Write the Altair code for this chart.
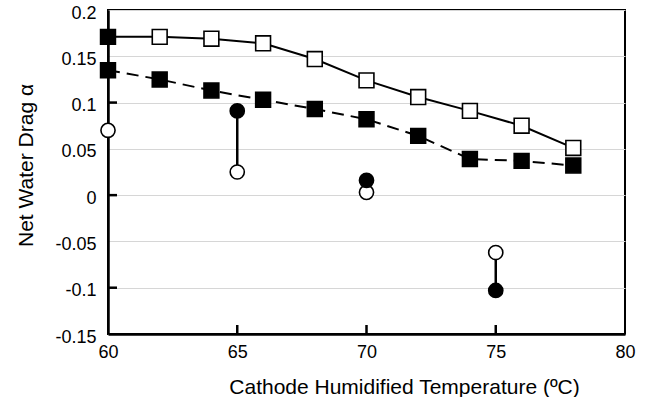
import altair as alt
import numpy as np
import pandas as pd

# ---- data ----
temps = [60, 62, 64, 66, 68, 70, 72, 74, 76, 78]
alpha_solid = [0.171, 0.171, 0.169, 0.164, 0.147, 0.124, 0.106, 0.091, 0.075, 0.051]
alpha_dashed = [0.135, 0.125, 0.113, 0.103, 0.093, 0.082, 0.064, 0.039, 0.037, 0.032]

circ_temps = [60, 65, 70, 75]
circ_open = [0.070, 0.025, 0.003, -0.062]
circ_filled = [np.nan, 0.091, 0.016, -0.103]

y_tick_values = [-0.15, -0.1, -0.05, 0, 0.05, 0.1, 0.15, 0.2]
y_major = [-0.1, 0, 0.1]
x_tick_values = [60, 65, 70, 75, 80]
x_inner = [65, 70, 75]

sq = pd.DataFrame({"T": temps, "solid": alpha_solid, "dashed": alpha_dashed})
circ = pd.DataFrame({"T": circ_temps, "open": circ_open, "filled": circ_filled})
ymaj = pd.DataFrame({"v": y_major})
xin = pd.DataFrame({"t": x_inner})

FONT = "Liberation Sans"

xscale = alt.Scale(domain=[60, 80], nice=False, zero=False)
yscale = alt.Scale(domain=[-0.15, 0.2], nice=False, zero=False)

xaxis = alt.Axis(
    values=x_tick_values, format="d", grid=False, ticks=False,
    labelPadding=9, labelFlush=False,
    title="Cathode Humidified Temperature (ºC)",
    titleX=296, titleY=59, titleBaseline="alphabetic", titleAnchor="start",
    titleAlign="center",
)
yaxis = alt.Axis(
    values=y_tick_values, labelExpr="toString(datum.value)", grid=True,
    ticks=False, labelPadding=12, labelFlush=False, labelOffset=3,
    title="Net Water Drag α",
    titleX=-76, titleY=155, titleBaseline="alphabetic", titleAlign="center",
    titleAngle=270,
)


def X(field):
    return alt.X(field, type="quantitative", scale=xscale, axis=xaxis)


def Y(field):
    return alt.Y(field, type="quantitative", scale=yscale, axis=yaxis)


line_solid = alt.Chart(sq).mark_line(color="black", strokeWidth=2).encode(
    x=X("T"), y=Y("solid")
)
line_dashed = alt.Chart(sq).mark_line(
    color="black", strokeWidth=2, strokeDash=[12, 7]
).encode(x=X("T"), y=Y("dashed"))

pts_solid = alt.Chart(sq).mark_point(
    shape="square", size=220, stroke="black", strokeWidth=1.6, opacity=1, filled=False
).encode(
    x=X("T"), y=Y("solid"),
    fill=alt.condition(alt.datum.T == 60, alt.value("black"), alt.value("white")),
)
pts_dashed = alt.Chart(sq).mark_point(
    shape="square", size=220, stroke="black", strokeWidth=1.6, fill="black",
    opacity=1, filled=True,
).encode(x=X("T"), y=Y("dashed"))

connect = alt.Chart(circ).mark_rule(color="black", strokeWidth=2.5).encode(
    x=X("T"), y=Y("filled"), y2="open"
)
circ_o = alt.Chart(circ).mark_point(
    shape="circle", size=200, stroke="black", strokeWidth=1.6, fill="white",
    opacity=1, filled=False,
).encode(x=X("T"), y=Y("open"))
circ_f = alt.Chart(circ).mark_point(
    shape="circle", size=200, stroke="black", strokeWidth=1.6, fill="black",
    opacity=1, filled=True,
).encode(x=X("T"), y=Y("filled"))

ytick = alt.Chart(ymaj).mark_rule(color="black", strokeWidth=2.5).encode(
    y=Y("v"), x=alt.value(0), x2=alt.value(9)
)
xtick = alt.Chart(xin).mark_rule(color="black", strokeWidth=2.5).encode(
    x=X("t"), y=alt.value(324), y2=alt.value(315)
)

chart = alt.layer(
    ytick, xtick, line_solid, line_dashed, connect, circ_o, circ_f, pts_dashed, pts_solid
).properties(
    width=517, height=324,
    autosize=alt.AutoSizeParams(type="none"),
    padding={"left": 108, "top": 10, "right": 23, "bottom": 63},
    background="white",
).configure_view(
    stroke="black", strokeWidth=2
).configure_axis(
    labelFont=FONT, titleFont=FONT, labelFontSize=18, titleFontSize=21,
    titleFontWeight="normal", labelColor="black", titleColor="black",
    domainColor="black", domainWidth=2.5, gridColor="#d6d6d6", gridWidth=1.2,
)

chart.save("out.html", embed_options={"renderer": "svg", "actions": False})
